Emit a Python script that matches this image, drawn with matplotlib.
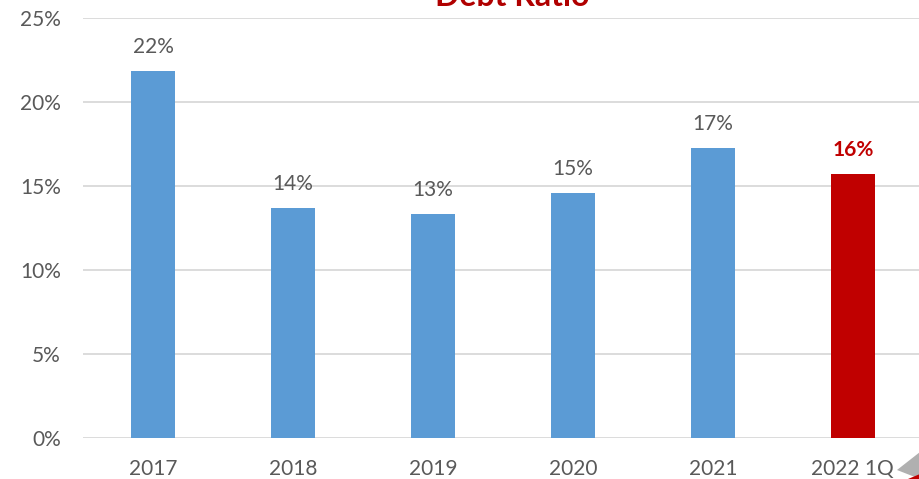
import matplotlib.pyplot as plt
from matplotlib.patches import Polygon

years = ['2017', '2018', '2019', '2020', '2021', '2022 1Q']
ratio = [21.85, 13.7, 13.35, 14.6, 17.25, 15.7]
labels = ['22%', '14%', '13%', '15%', '17%', '16%']

blue = '#5B9BD5'
red = '#C00000'
grey = '#595959'

plt.rcParams['font.family'] = ['Lato', 'DejaVu Sans']

fig = plt.figure(figsize=(9.2, 4.79), dpi=100)
ax = fig.add_axes([83 / 920, 1 - 438 / 479, 1 - 83 / 920, 420 / 479])

colors = [blue] * 5 + [red]
x = list(range(len(years)))
ax.bar(x, ratio, width=0.31, color=colors, zorder=3)

# value labels above the bars
for i, (v, t) in enumerate(zip(ratio, labels)):
    last = i == len(years) - 1
    ax.annotate(t, (i, v), xytext=(0, 13), textcoords='offset points',
                ha='center', va='baseline', fontsize=15,
                color=red if last else grey,
                fontweight='bold' if last else 'normal')

ax.set_ylim(0, 25)
ax.set_xlim(-0.5, 5.48)
ax.set_yticks([0, 5, 10, 15, 20, 25])
ax.set_yticklabels(['0%', '5%', '10%', '15%', '20%', '25%'])
ax.set_xticks(x)
ax.set_xticklabels(years)
ax.tick_params(axis='both', length=0, labelsize=15, labelcolor=grey)
ax.tick_params(axis='x', pad=15)
ax.tick_params(axis='y', pad=16)
ax.grid(axis='y', color='#D9D9D9', linewidth=1.3, zorder=0)
for s in ax.spines.values():
    s.set_visible(False)

# title, mostly cut off by the top edge
fig.text(512 / 920, 1 - 6 / 479, 'Debt Ratio', ha='center', va='baseline',
         fontsize=23, fontweight='bold', color='#B00000')

# small page-curl decoration in the corner
fig.patches.append(Polygon([(897, 479 - 470), (920, 479 - 452), (920, 479 - 479)],
                           closed=True, transform=None, facecolor='#B0B0B0',
                           edgecolor='none', figure=fig))
fig.patches.append(Polygon([(908, 479 - 479), (920, 479 - 474), (920, 479 - 479)],
                           closed=True, transform=None, facecolor=red,
                           edgecolor='none', figure=fig))

fig.savefig('out.png', dpi=100)
